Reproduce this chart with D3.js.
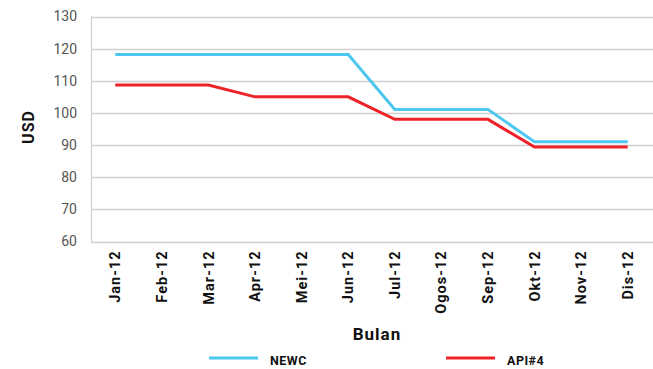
<!DOCTYPE html>
<html>
<head>
<meta charset="utf-8">
<script src="https://cdn.jsdelivr.net/npm/d3@7"></script>
<style>
  body { margin: 0; background: #fff; }
  svg { display: block; }
</style>
</head>
<body>
<svg id="chart" width="653" height="369"></svg>
<script>
// Monthly coal price indices (USD) for 2012
const months = ["Jan-12", "Feb-12", "Mar-12", "Apr-12", "Mei-12", "Jun-12",
                "Jul-12", "Ogos-12", "Sep-12", "Okt-12", "Nov-12", "Dis-12"];
const newc = [118.2, 118.2, 118.2, 118.2, 118.2, 118.2, 101.1, 101.1, 101.1, 91.0, 91.0, 91.0];
const api4 = [108.7, 108.7, 108.7, 105.0, 105.0, 105.0, 98.0, 98.0, 98.0, 89.4, 89.4, 89.4];
const yTicks = [60, 70, 80, 90, 100, 110, 120, 130];
const seriesNames = ["NEWC", "API#4"];
const seriesColors = ["#4cc7ef", "#ee2229"];

const FONT = "Roboto, 'DejaVu Sans', sans-serif";
const svg = d3.select("#chart");
const margin = { left: 92, right: 651, top: 16.5, bottom: 241.5 };

const x = d3.scaleBand().domain(months).range([margin.left, margin.right]);
const y = d3.scaleLinear().domain([60, 130]).range([margin.bottom, margin.top]);

// Horizontal gridlines
svg.append("g")
  .selectAll("line")
  .data(yTicks)
  .join("line")
  .attr("x1", margin.left - 1)
  .attr("x2", 653)
  .attr("y1", d => Math.round(y(d)) + 0.5)
  .attr("y2", d => Math.round(y(d)) + 0.5)
  .attr("stroke", "#d0d0d0")
  .attr("stroke-width", 1.3);

// Left axis line
svg.append("line")
  .attr("x1", margin.left - 0.5).attr("x2", margin.left - 0.5)
  .attr("y1", y(130)).attr("y2", y(60) + 0.5)
  .attr("stroke", "#d0d0d0").attr("stroke-width", 1.3);

// Y axis labels
const yAxis = d3.axisLeft(y).tickValues(yTicks).tickSize(0).tickPadding(15);
const gy = svg.append("g").attr("transform", `translate(${margin.left},0)`).call(yAxis);
gy.select(".domain").remove();
gy.selectAll("text")
  .attr("font-family", FONT)
  .attr("font-size", 14)
  .attr("fill", "#555");

// X axis labels (rotated)
const xAxis = d3.axisBottom(x).tickSize(0).tickPadding(0);
const gx = svg.append("g").attr("transform", `translate(0,${margin.bottom})`).call(xAxis);
gx.select(".domain").remove();
gx.selectAll("text")
  .attr("font-family", FONT)
  .attr("font-size", 14.5)
  .attr("font-weight", "bold")
  .attr("letter-spacing", 1)
  .attr("fill", "#111")
  .attr("transform", "rotate(-90)")
  .attr("text-anchor", "end")
  .attr("dy", "0.35em")
  .attr("x", -9)
  .attr("y", 0);

// Axis titles
svg.append("text")
  .attr("transform", "translate(34,127) rotate(-90)")
  .attr("text-anchor", "middle")
  .attr("font-family", FONT)
  .attr("font-size", 16)
  .attr("font-weight", "bold")
  .attr("letter-spacing", 1)
  .attr("fill", "#111")
  .text("USD");

svg.append("text")
  .attr("x", 377).attr("y", 340)
  .attr("text-anchor", "middle")
  .attr("font-family", FONT)
  .attr("font-size", 17)
  .attr("font-weight", "bold")
  .attr("letter-spacing", 1)
  .attr("fill", "#111")
  .text("Bulan");

// Series lines
const line = d3.line()
  .x((d, i) => x(months[i]) + x.bandwidth() / 2)
  .y(d => y(d));

[newc, api4].forEach((vals, k) => {
  svg.append("path")
    .datum(vals)
    .attr("d", line)
    .attr("fill", "none")
    .attr("stroke", seriesColors[k])
    .attr("stroke-width", 3);
});

// Legend
const legendX = [209, 446];
seriesNames.forEach((name, k) => {
  const g = svg.append("g").attr("transform", `translate(${legendX[k]},358)`);
  g.append("line")
    .attr("x1", 0).attr("x2", 49)
    .attr("stroke", seriesColors[k]).attr("stroke-width", 3);
  g.append("text")
    .attr("x", 61).attr("y", 7)
    .attr("font-family", FONT)
    .attr("font-size", 12.5)
    .attr("font-weight", "bold")
    .attr("letter-spacing", 0.5)
    .attr("fill", "#111")
    .text(name);
});
</script>
</body>
</html>
